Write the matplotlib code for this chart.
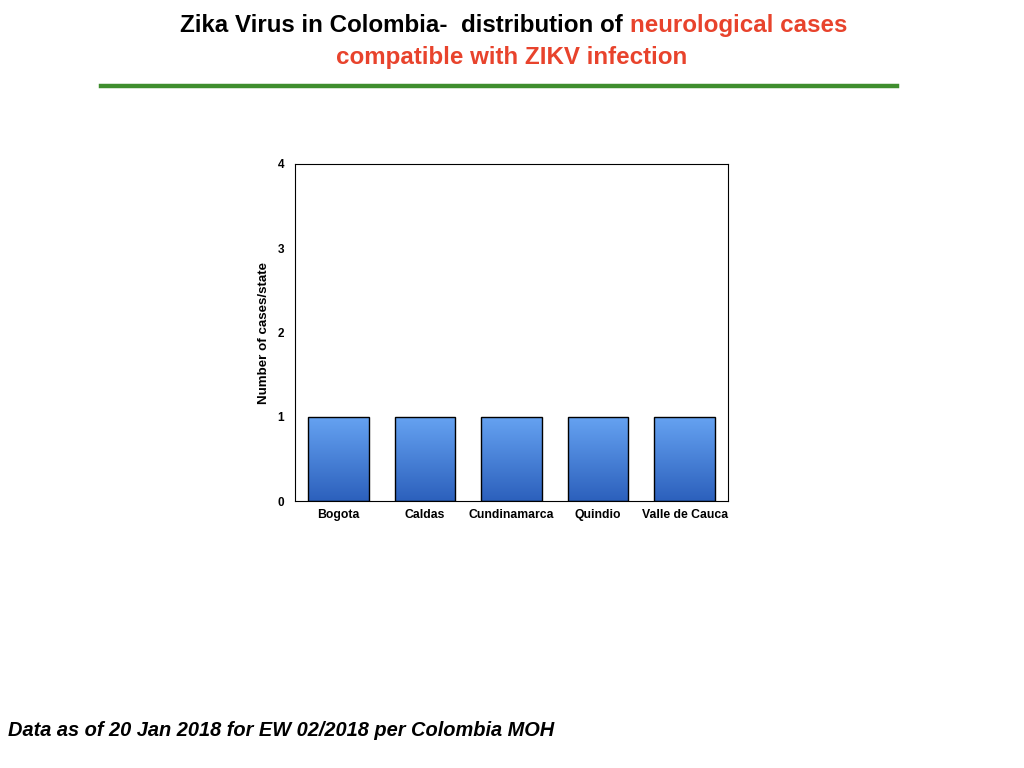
import numpy as np
import matplotlib as mpl
mpl.rcParams['font.family'] = ['Liberation Sans', 'DejaVu Sans']
import matplotlib.pyplot as plt
from matplotlib.lines import Line2D

# data
states = ['Bogota', 'Caldas', 'Cundinamarca', 'Quindio', 'Valle de Cauca']
cases = [1, 1, 1, 1, 1]
yticks = [0, 1, 2, 3, 4]

fig = plt.figure(figsize=(10.24, 7.68), dpi=100)
ax = fig.add_axes([295/1024, 1-501/768, 433/1024, 337/768])

x = np.arange(len(states))
bars = ax.bar(x, cases, width=0.7, color='none', edgecolor='black', linewidth=1.0, zorder=3)

# vertical gradient for each bar
grad = np.linspace(0, 1, 256).reshape(-1, 1)
cmap = mpl.colors.LinearSegmentedColormap.from_list('blu', ['#2C60BC', '#66A3F2'])
for b in bars:
    x0, y0 = b.get_x(), b.get_y()
    w, h = b.get_width(), b.get_height()
    im = ax.imshow(grad, extent=[x0, x0+w, y0, y0+h], origin='lower', aspect='auto',
                   cmap=cmap, zorder=2)
    im.set_clip_path(b)

ax.set_xlim(-0.5, len(states)-0.5)
ax.set_ylim(0, 4)
ax.set_yticks(yticks)
ax.set_xticks(x)
ax.set_xticklabels(states, fontsize=8.8, fontweight='bold')
ax.set_yticklabels([str(t) for t in yticks], fontsize=8.5, fontweight='bold')
ax.tick_params(length=0, pad=8)
ax.tick_params(axis='x', pad=6)
ax.set_ylabel('Number of cases/state', fontsize=9.6, fontweight='bold', labelpad=5)
for s in ax.spines.values():
    s.set_linewidth(0.8)

# title, two colours on the first line
fig.canvas.draw()
r = fig.canvas.get_renderer()
ty = 1-32/768
t1 = fig.text(0, ty, 'Zika Virus in Colombia\u2010  distribution of ', fontsize=17.4,
              fontweight='bold', color='black', va='baseline', ha='left')
t2 = fig.text(0, ty, 'neurological cases', fontsize=17.4,
              fontweight='bold', color='#E8432C', va='baseline', ha='left')
w1 = t1.get_window_extent(r).width
start = 180
t1.set_x(start/1024)
t2.set_x((start + w1)/1024)
fig.text(512/1024, 1-64/768, 'compatible with ZIKV infection', fontsize=17.4,
         fontweight='bold', color='#E8432C', va='baseline', ha='center')

fig.add_artist(Line2D([101/1024, 897/1024], [1-86/768, 1-86/768], color='#3F8E2E',
                      linewidth=3.2, transform=fig.transFigure))

fig.text(8/1024, 1-730/768, 'Data as of 20 Jan 2018 for EW 02/2018 per Colombia MOH',
         fontsize=14.4, fontweight='bold', fontstyle='italic', va='center', ha='left')

fig.savefig('out.png', dpi=100)
